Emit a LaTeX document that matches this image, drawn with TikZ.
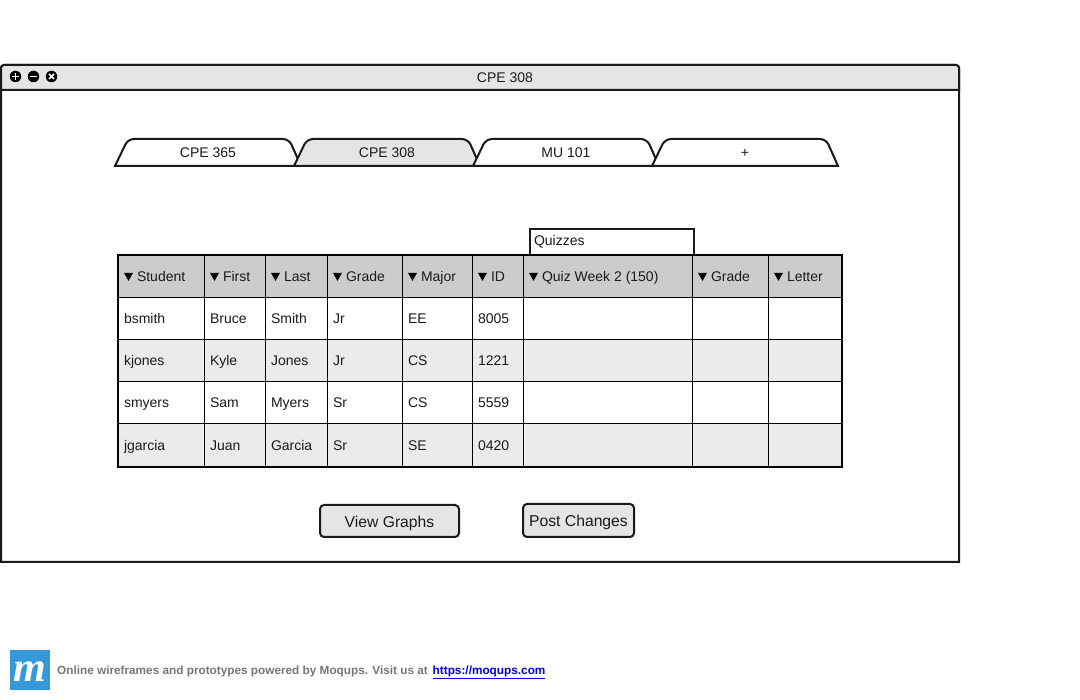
\documentclass[tikz,border=0pt]{standalone}
\usepackage{fontspec}
\setmainfont{Liberation Sans}
\newfontfamily\logofont{Liberation Serif}
\definecolor{ink}{HTML}{1A1A1A}
\definecolor{chrome}{HTML}{E5E5E5}
\definecolor{headfill}{HTML}{CCCCCC}
\definecolor{rowfill}{HTML}{EBEBEB}
\definecolor{logoblue}{HTML}{3498DB}
\definecolor{footgray}{HTML}{777777}
\definecolor{linkblue}{HTML}{0000EE}
\newcommand{\fs}[1]{\fontsize{#1}{#1}\selectfont}
\newcommand{\dn}{\tikz[baseline=0pt,x=1pt,y=1pt]\fill[black] (0,8.6) -- (9,8.6) -- (4.5,0.6) -- cycle;\hspace{4pt}}
\tikzset{
  x=1pt,y=-1pt,
  heavy/.style={draw=ink,line width=2pt},
  thin rule/.style={draw=black,line width=1pt},
  cell/.style={anchor=base west,inner sep=0pt,outer sep=0pt,text=ink,font=\fs{14}},
  tablabel/.style={anchor=base,inner sep=0pt,text=ink,font=\fs{14}},
  btnlabel/.style={anchor=base,inner sep=0pt,text=ink,font=\fs{15.7}},
  btn/.style={heavy,fill=chrome,rounded corners=4pt},
  wicon/.style={circle,fill=black,inner sep=0pt,minimum size=11.5pt},
  iconmark/.style={draw=white,line width=1.7pt},
}
\begin{document}
\begin{tikzpicture}
\useasboundingbox (0,0) rectangle (1080,700);
\fill[white] (0,0) rectangle (1080,700);
% window
\draw[heavy,fill=white] (1,562) [rounded corners=3pt] -- (1,65) -- (959,65) [sharp corners] -- (959,562) -- cycle;
\draw[heavy,fill=chrome] (1,90) [rounded corners=3pt] -- (1,65) -- (959,65) [sharp corners] -- (959,90) -- cycle;
\node[tablabel] (title) at (505,82.5) {CPE 308};
\node[wicon] (iconplus) at (15.5,76.5) {};
\node[wicon] (iconminus) at (33.5,76.5) {};
\node[wicon] (iconclose) at (51.5,76.5) {};
\draw[iconmark] (12.3,76.5) -- (18.7,76.5) (15.5,73.3) -- (15.5,79.7);
\draw[iconmark] (30.3,76.5) -- (36.7,76.5);
\draw[iconmark] (49,74) -- (54,79) (54,74) -- (49,79);
% tabs
\foreach \tx/\tfill/\tname/\tlabel in {115/white/tabA/CPE 365,294/chrome/tabB/CPE 308,473/white/tabC/MU 101,652/white/tabD/+}{
  \draw[heavy,fill=\tfill,line join=miter] (\tx,166) [rounded corners=6pt] -- (\tx+13,139) -- (\tx+174,139) [sharp corners] -- (\tx+186,166) -- cycle;
  \node[tablabel] (\tname) at (\tx+93,157.5) {\tlabel};
}
% quizzes box
\draw[heavy,fill=white] (530,255) -- (530,229) -- (694,229) -- (694,255);
\node[cell] (quizzes) at (534,245.5) {Quizzes};
% table fills
\fill[headfill] (118,255) rectangle (842,297);
\fill[white] (118,297) rectangle (842,339);
\fill[rowfill] (118,339) rectangle (842,381);
\fill[white] (118,381) rectangle (842,423);
\fill[rowfill] (118,423) rectangle (842,467);
% table rules
\foreach \cx in {204.5,265.5,327.5,402.5,472.5,523.5,692.5,768.5}
  \draw[thin rule] (\cx,255) -- (\cx,467);
\foreach \ry in {297.5,339.5,381.5,423.5}
  \draw[thin rule] (118,\ry) -- (842,\ry);
\draw[draw=black,line width=2pt] (118,255) rectangle (842,467);
% header
\foreach \hx/\hname/\hlabel in {124/hA/Student,210/hB/First,271/hC/Last,333/hD/Grade,408/hE/Major,478/hF/ID,529/hG/Quiz Week 2 (150),698/hH/Grade,774/hI/Letter}
  \node[cell] (\hname) at (\hx,281.5) {\dn\hlabel};
% rows
\foreach \ry/\rn/\a/\b/\c/\d/\e/\f in {
  323.5/1/bsmith/Bruce/Smith/Jr/EE/8005,
  365.5/2/kjones/Kyle/Jones/Jr/CS/1221,
  407.5/3/smyers/Sam/Myers/Sr/CS/5559,
  450.5/4/jgarcia/Juan/Garcia/Sr/SE/0420}{
  \node[cell] (r\rn a) at (124,\ry) {\a};
  \node[cell] (r\rn b) at (210,\ry) {\b};
  \node[cell] (r\rn c) at (271,\ry) {\c};
  \node[cell] (r\rn d) at (333,\ry) {\d};
  \node[cell] (r\rn e) at (408,\ry) {\e};
  \node[cell] (r\rn f) at (478,\ry) {\f};
}
% buttons
\draw[btn] (320,505) rectangle (459,537);
\node[btnlabel] (viewgraphs) at (389.5,527.5) {View Graphs};
\draw[btn] (523,504) rectangle (634,537);
\node[btnlabel] (postchanges) at (578.5,526.5) {Post Changes};
% footer
\fill[logoblue] (10,650) rectangle (50,690);
\node[anchor=base,inner sep=0pt,text=white,font=\logofont\bfseries\itshape\fs{42}] (logo) at (29.5,681) {m};
\node[anchor=base west,inner sep=0pt,text=footgray,font=\bfseries\fs{11.78}] (foot) at (57,674) {Online wireframes and prototypes powered by Moqups. Visit us at};
\node[anchor=base west,inner sep=0pt,text=linkblue,font=\bfseries\fs{11.8}] (link) at (432.5,674) {\underline{https://moqups.com}};
\end{tikzpicture}
\end{document}
